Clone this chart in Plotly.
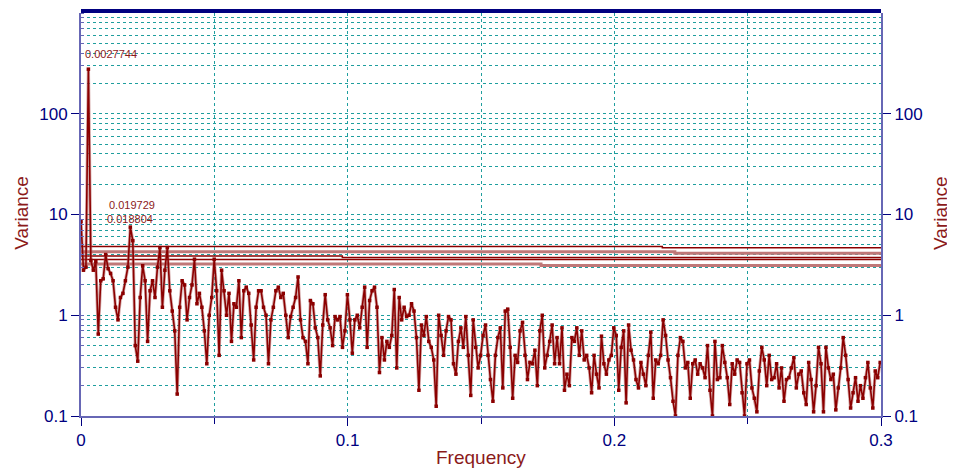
import plotly.graph_objects as go

# ---- data ----
df = 0.000925
variance = [
    8.5, 2.8, 3.0, 277, 3.5, 2.8, 3.4, 0.65, 2.2, 2.3,
    4.0, 2.9, 2.6, 2.2, 1.2, 0.9, 1.5, 1.65, 2.2, 3.0,
    7.5, 5.5, 0.5, 0.35, 1.5, 3.1, 2.2, 0.55, 1.75, 2.2,
    1.5, 3.0, 4.7, 1.2, 2.8, 4.7, 1.75, 1.1, 0.7, 0.165,
    1.2, 2.2, 2.0, 0.9, 1.5, 2.0, 3.6, 1.3, 1.65, 1.2,
    0.7, 0.33, 1.0, 1.5, 3.6, 1.75, 0.4, 2.8, 1.75, 1.0,
    1.65, 0.55, 1.3, 1.2, 2.2, 0.6, 1.75, 1.9, 1.65, 0.8,
    0.36, 1.2, 1.75, 1.75, 1.2, 1.0, 0.33, 0.9, 1.2, 1.75,
    1.9, 1.5, 1.65, 1.0, 0.6, 0.97, 1.2, 1.5, 2.4, 0.9,
    0.6, 0.55, 0.33, 1.4, 1.3, 0.75, 0.6, 0.25, 0.8, 1.6,
    0.9, 0.75, 0.5, 0.97, 0.9, 0.97, 0.48, 0.7, 1.6, 0.9,
    0.42, 0.9, 1.0, 0.75, 1.2, 1.9, 0.48, 1.4, 1.75, 1.9,
    1.2, 0.27, 0.6, 0.36, 0.55, 0.48, 0.63, 1.8, 0.3, 1.5,
    0.9, 1.2, 0.97, 1.0, 1.3, 1.1, 0.6, 0.18, 0.8, 0.63,
    0.97, 0.55, 0.48, 0.36, 0.125, 1.0, 0.63, 0.4, 0.7, 0.97,
    0.9, 0.33, 0.26, 0.55, 0.75, 0.48, 0.97, 0.4, 0.16, 0.9,
    0.48, 0.3, 0.4, 0.63, 0.8, 0.4, 0.23, 0.14, 0.4, 0.6,
    0.75, 0.19, 1.1, 1.15, 0.48, 0.15, 0.4, 0.34, 0.7, 0.85,
    0.4, 0.23, 0.34, 0.33, 0.45, 0.2, 0.7, 1.0, 0.3, 0.4,
    0.55, 0.8, 0.33, 0.6, 0.33, 0.75, 0.18, 0.26, 0.2, 0.6,
    0.55, 0.75, 0.4, 0.7, 0.36, 0.4, 0.3, 0.17, 0.4, 0.26,
    0.19, 0.62, 0.33, 0.26, 0.36, 0.4, 0.75, 0.63, 0.18, 0.48,
    0.7, 0.135, 0.8, 0.45, 0.36, 0.23, 0.19, 0.34, 0.26, 0.2,
    0.4, 0.68, 0.15, 0.36, 0.33, 0.4, 0.9, 0.63, 0.36, 0.24,
    0.14, 0.1, 0.4, 0.6, 0.55, 0.3, 0.34, 0.15, 0.33, 0.36,
    0.26, 0.33, 0.3, 0.24, 0.5, 0.18, 0.1, 0.55, 0.23, 0.24,
    0.5, 0.34, 0.24, 0.13, 0.33, 0.26, 0.36, 0.34, 0.17, 0.1,
    0.33, 0.36, 0.19, 0.15, 0.11, 0.28, 0.48, 0.36, 0.2, 0.4,
    0.23, 0.24, 0.33, 0.19, 0.3, 0.14, 0.23, 0.24, 0.3, 0.38,
    0.19, 0.26, 0.28, 0.17, 0.13, 0.34, 0.23, 0.11, 0.2, 0.48,
    0.33, 0.11, 0.48, 0.3, 0.23, 0.26, 0.115, 0.19, 0.3, 0.6,
    0.4, 0.23, 0.12, 0.17, 0.24, 0.14, 0.2, 0.15, 0.24, 0.34,
    0.19, 0.12, 0.28, 0.24, 0.34,
]
frequency = [i * df for i in range(len(variance))]

# confidence levels (step lines)
conf_x = [0.0, 0.098, 0.1725, 0.218, 0.2227, 0.3]
conf_dark1 = [4.82, 4.82, 4.82, 4.67, 4.67, 4.67]
conf_light1 = [4.27, 4.27, 4.27, 4.27, 4.13, 4.13]
conf_dark2 = [3.87, 3.74, 3.74, 3.74, 3.74, 3.74]
conf_dark3 = [3.57, 3.57, 3.57, 3.57, 3.57, 3.57]
conf_light2 = [3.22, 3.22, 3.11, 3.11, 3.11, 3.11]

peak_labels = ["0.0027744", "0.019729", "0.018804"]

x_ticks = [0, 0.1, 0.2, 0.3]
x_ticktext = ["0", "0.1", "0.2", "0.3"]
y_ticks = [0.1, 1, 10, 100]
y_ticktext = ["0.1", "1", "10", "100"]

DARK = "#8B0000"
LIGHT = "#C07878"
TEAL = "#1F9E9E"
NAVY = "#000080"
AXIS = "#6767B5"
TITLE = "#8B1A1A"

fig = go.Figure()

for vals, col, w in [(conf_light1, LIGHT, 3), (conf_light2, LIGHT, 3),
                     (conf_dark1, DARK, 1.5), (conf_dark2, DARK, 1.5),
                     (conf_dark3, DARK, 1.5)]:
    fig.add_trace(go.Scatter(x=conf_x, y=vals, mode="lines",
                             line=dict(color=col, width=w, shape="hv"),
                             hoverinfo="skip", showlegend=False))

# soft halo under the spectrum line (as in the anti-aliased original)
fig.add_trace(go.Scatter(x=frequency, y=variance, mode="lines",
                         line=dict(color="rgba(176,96,96,0.55)", width=3.2),
                         hoverinfo="skip", showlegend=False))
fig.add_trace(go.Scatter(x=frequency, y=variance, mode="lines+markers",
                         line=dict(color=DARK, width=1.6),
                         marker=dict(color=DARK, size=3.5, symbol="square"),
                         showlegend=False))

# invisible trace to activate right axis
fig.add_trace(go.Scatter(x=frequency[:2], y=variance[:2], yaxis="y2",
                         mode="lines", opacity=0, hoverinfo="skip",
                         showlegend=False))

tickfont = dict(family="Liberation Sans, Arial", size=17, color=NAVY)
titlefont = dict(family="Liberation Sans, Arial", size=19, color=TITLE)

yaxis_common = dict(
    type="log", range=[-1, 3], tickvals=y_ticks, ticktext=y_ticktext,
    tickfont=tickfont, ticks="outside", ticklen=8, tickcolor=NAVY,
    showline=True, linecolor=AXIS, linewidth=2,
    zeroline=False, automargin=False,
)

# page body has an 8px margin, so the figure is offset by 8px
fig.update_layout(
    width=947, height=465,
    margin=dict(l=73, r=74, t=5, b=57),
    paper_bgcolor="white", plot_bgcolor="white",
    xaxis=dict(
        range=[0, 0.3], tickvals=x_ticks, ticktext=x_ticktext,
        tickfont=tickfont, ticks="outside", ticklen=8, tickcolor=NAVY,
        showline=True, linecolor=AXIS, linewidth=2, mirror=False,
        showgrid=True, gridcolor=TEAL, griddash="dot", gridwidth=1,
        minor=dict(dtick=0.05, showgrid=True, gridcolor=TEAL, griddash="dot",
                   ticks="outside", ticklen=6, tickcolor=NAVY),
        zeroline=False, automargin=False,
    ),
    yaxis=dict(
        **yaxis_common,
        showgrid=True, gridcolor=TEAL, griddash="dot", gridwidth=1,
        minor=dict(dtick="D1", showgrid=True, gridcolor=TEAL, griddash="dot",
                   ticks="inside", ticklen=3, tickcolor=AXIS),
    ),
    yaxis2=dict(**yaxis_common, overlaying="y", side="right", showgrid=False),
    shapes=[dict(type="line", xref="paper", yref="paper", x0=0, x1=1,
                 y0=1.005, y1=1.005, line=dict(color=NAVY, width=4))],
)

# axis titles
for txt, px, py, ang in [("Variance", -0.074, 0.504, -90),
                         ("Variance", 1.075, 0.504, -90),
                         ("Frequency", 0.5, -0.104, 0)]:
    fig.add_annotation(text=txt, x=px, y=py, xref="paper", yref="paper",
                       xanchor="center", yanchor="middle", showarrow=False,
                       textangle=ang, font=titlefont)

ann_font = dict(family="Liberation Sans, Arial", size=11, color=TITLE)
for txt, px, py in zip(peak_labels, [0.0025, 0.0325, 0.03], [0.898, 0.524, 0.489]):
    fig.add_annotation(text=txt, x=px, y=py, xref="paper", yref="paper",
                       xanchor="left", yanchor="middle", showarrow=False,
                       font=ann_font)

fig.write_html("out.html")
